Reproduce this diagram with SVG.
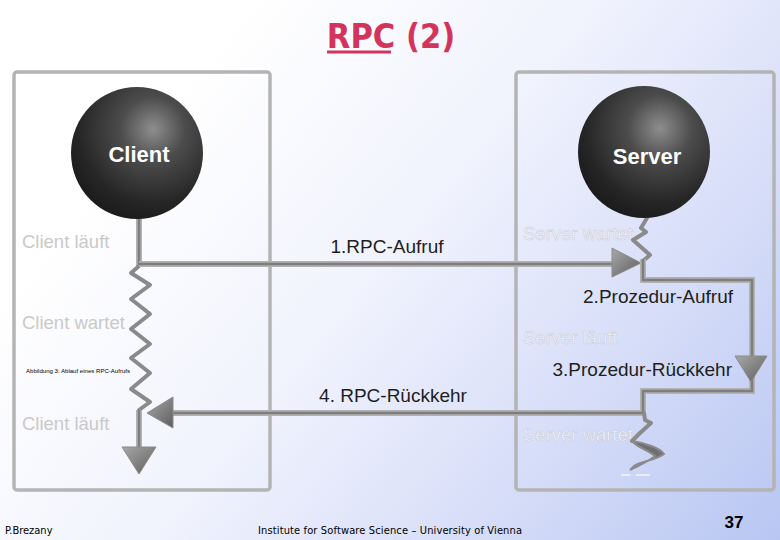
<svg xmlns="http://www.w3.org/2000/svg" width="780" height="540" viewBox="0 0 780 540">
<defs>
<linearGradient id="bg" gradientUnits="userSpaceOnUse" x1="200" y1="60" x2="780" y2="540">
<stop offset="0" stop-color="#ffffff"/>
<stop offset="0.35" stop-color="#f1f3fd"/>
<stop offset="0.7" stop-color="#d5dcf8"/>
<stop offset="1" stop-color="#b8c6f2"/>
</linearGradient>
<radialGradient id="sphere" cx="0.62" cy="0.32" r="0.7">
<stop offset="0" stop-color="#8e8e8e"/>
<stop offset="0.35" stop-color="#4c4c4c"/>
<stop offset="0.8" stop-color="#262626"/>
<stop offset="1" stop-color="#1c1c1c"/>
</radialGradient>
<linearGradient id="tri" x1="0" y1="0" x2="1" y2="1">
<stop offset="0" stop-color="#a8a8a8"/>
<stop offset="1" stop-color="#5e5e5e"/>
</linearGradient>
<style>
.box{fill:none;stroke:#b4b4b4;stroke-width:3.5}
.pipeo{fill:none;stroke:#b2b2b2;stroke-width:6;stroke-linejoin:miter}
.pipei{fill:none;stroke:#7e7e7e;stroke-width:2.6;stroke-linejoin:miter}
.zig{fill:none;stroke:#8a8a8a;stroke-width:4;stroke-linejoin:round;stroke-linecap:round}
.tri{fill:url(#tri);stroke:#8a8a8a;stroke-width:1}
.node{font-family:"Liberation Sans",Arial,sans-serif;font-weight:bold;font-size:22px;fill:#ffffff;text-anchor:middle}
.state{font-family:"Liberation Sans",Arial,sans-serif;font-size:18.5px;fill:#c9c9c9}
.sstate{font-family:"Liberation Sans",Arial,sans-serif;font-size:18.5px;fill:#f6f7fb;stroke:#c4c8d4;stroke-width:0.5}
.lbl{font-family:"Liberation Sans",Arial,sans-serif;font-size:19px;fill:#1e1e1e}
.foot{font-family:"DejaVu Sans Condensed","DejaVu Sans",sans-serif;font-size:11px;fill:#000000}
</style>
</defs>
<rect x="0" y="0" width="780" height="540" fill="url(#bg)"/>
<text x="391" y="48" font-family="'DejaVu Sans Condensed','DejaVu Sans',sans-serif" font-size="34" font-weight="bold" fill="#d4345c" text-anchor="middle">RPC (2)</text>
<line x1="327" y1="52" x2="391" y2="52" stroke="#d4345c" stroke-width="3"/>

<g id="client-box">
<rect x="14" y="72" width="256" height="418" rx="3" fill="#fbfcff" class="box"/>
<text class="state" x="22" y="248">Client läuft</text>
<text class="state" x="22" y="329">Client wartet</text>
<text class="state" x="22" y="430">Client läuft</text>
<text x="26" y="373" font-family="'Liberation Sans',Arial,sans-serif" font-size="5.5" fill="#000" textLength="104" lengthAdjust="spacingAndGlyphs">Abbildung 3: Ablauf eines RPC-Aufrufs</text>
</g>
<g id="server-box">
<rect x="516" y="72" width="258" height="418" rx="3" fill="none" class="box"/>
<text class="sstate" x="523" y="240">Server wartet</text>
<text class="sstate" x="523" y="344">Server läuft</text>
<text class="sstate" x="523" y="441">Server wartet</text>
</g>

<g id="connectors">
<line class="pipeo" x1="139" y1="216" x2="139" y2="266"/>
<line class="pipei" x1="139" y1="216" x2="139" y2="266"/>
<polyline class="zig" points="139,266 131,273 150,285 131,299 150,314 131,329 150,344 131,358 150,373 131,389 150,402 139,410"/>
<line class="pipeo" x1="139" y1="410" x2="139" y2="448"/>
<line class="pipei" x1="139" y1="410" x2="139" y2="448"/>
<polygon class="tri" points="122,447 156,447 139,474"/>
<line class="pipeo" x1="139" y1="264" x2="614" y2="264"/>
<line class="pipei" x1="139" y1="264" x2="614" y2="264"/>
<polygon class="tri" points="612,248 641,263 612,277"/>
<polyline class="zig" points="647,218 641,228 646,232 633,240 650,255 643,261"/>
<polyline class="pipeo" points="643,259 643,280 752,280 752,358"/>
<polyline class="pipei" points="643,259 643,280 752,280 752,358"/>
<polyline class="pipeo" points="752,370 752,391 643,391 643,413 173,413"/>
<polyline class="pipei" points="752,370 752,391 643,391 643,413 173,413"/>
<polygon class="tri" points="735,356 767,356 751,382"/>
<polygon class="tri" points="173,397 173,428 147,413"/>
<polyline class="zig" points="644,413 645,420 651,423 640,433 632,441"/>
<path d="M632,441 C645,443 660,448 664,454 C656,460 642,461 634,466 L630,470 C637,466 648,462 655,456 C648,450 638,448 632,441 Z" fill="#6f6f6f" stroke="#8a8a8a" stroke-width="2"/>
<line x1="621" y1="475" x2="630" y2="475" stroke="#f4f6fc" stroke-width="1.5"/>
<line x1="636" y1="475" x2="650" y2="475" stroke="#f4f6fc" stroke-width="1.5"/>
</g>

<g id="client">
<circle cx="137" cy="153" r="66" fill="url(#sphere)"/>
<text class="node" x="139" y="162">Client</text>
</g>
<g id="server">
<circle cx="644" cy="152" r="66" fill="url(#sphere)"/>
<text class="node" x="647" y="164">Server</text>
</g>

<g id="labels">
<text class="lbl" x="387" y="253" text-anchor="middle">1.RPC-Aufruf</text>
<text class="lbl" x="733" y="303" text-anchor="end">2.Prozedur-Aufruf</text>
<text class="lbl" x="732" y="376" text-anchor="end">3.Prozedur-Rückkehr</text>
<text class="lbl" x="393" y="402" text-anchor="middle">4. RPC-Rückkehr</text>
</g>

<text class="foot" x="5" y="534">P.Brezany</text>
<text class="foot" x="258" y="534" textLength="264">Institute for Software Science – University of Vienna</text>
<text x="734" y="528" font-family="'Liberation Sans',Arial,sans-serif" font-size="17" font-weight="bold" fill="#000" text-anchor="middle">37</text>
</svg>
